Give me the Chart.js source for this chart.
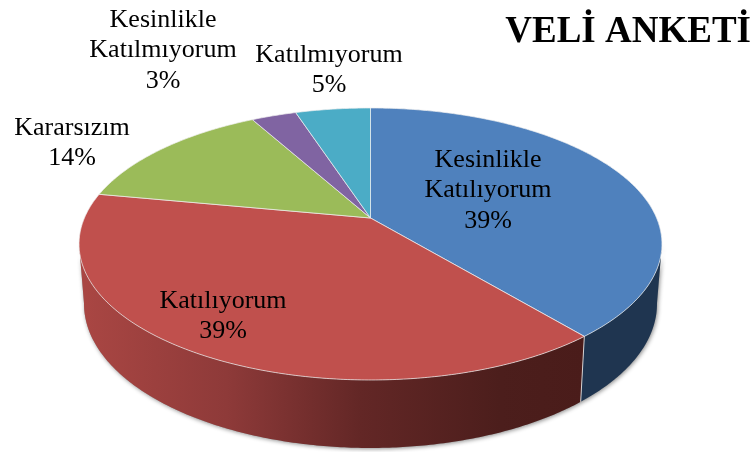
<!DOCTYPE html>
<html>
<head>
<meta charset="utf-8">
<title>Veli Anketi</title>
<script src="https://cdn.jsdelivr.net/npm/chart.js@4"></script>
<style>
  html, body { margin: 0; padding: 0; background: #fff; }
  canvas { display: block; }
</style>
</head>
<body>
<canvas id="anketChart" width="754" height="452"></canvas>
<script>
const chartTitle = 'VELİ ANKETİ';
const categories = ['Kesinlikle Katılıyorum', 'Katılıyorum', 'Kararsızım', 'Kesinlikle Katılmıyorum', 'Katılmıyorum'];
const values = [39, 39, 14, 3, 5];
const topColors = ['#4f81bd', '#c0504d', '#9bbb59', '#8064a2', '#4bacc6'];

// side wall shades, x position -> colour
const wallStops = [
    [[370, '#1f3550'], [662, '#1f3550']],
    [[85, '#a94643'], [227, '#8e3a39'], [360, '#632726'], [500, '#4c1e1c'], [585, '#4a1c1a']]
];

// label centres, first line baseline comes from y
const labelSpots = [[488, 160], [223, 301], [72, 128], [163, 20], [329, 55]];
const labelLineHeight = 30.5;

// perspective of the tilted disc: unit circle -> screen
const centerX = 370.5;
const persp = -0.191;
const topFace = { sx: 286.1, a: 89.4, b: 218 };
const bottomFace = { sx: 281.2, a: 86, b: 276.4 };

function project(face, angle) {
    const u = Math.cos(angle), v = Math.sin(angle);
    const w = 1 + persp * v;
    return [centerX + face.sx * u / w, (face.a * v + face.b) / w];
}

function traceRim(ctx, face, from, to, first) {
    const steps = Math.max(2, Math.ceil(Math.abs(to - from) / 0.01));
    for (let i = 0; i <= steps; i++) {
        const p = project(face, from + (to - from) * i / steps);
        if (first && i === 0) ctx.moveTo(p[0], p[1]);
        else ctx.lineTo(p[0], p[1]);
    }
}

const disc3d = {
    id: 'disc3d',
    // the library works out the angles, this only draws them in perspective
    beforeDatasetDraw(chart, args) {
        const ctx = chart.ctx;
        const arcs = chart.getDatasetMeta(args.index).data;
        // the wall is only seen between the two silhouette lines
        const wallFrom = 0.19, wallTo = Math.PI - 0.19;

        // soft shadow under the wall
        ctx.save();
        ctx.shadowColor = 'rgba(0,0,0,0.45)';
        ctx.shadowBlur = 4;
        ctx.shadowOffsetX = 1;
        ctx.shadowOffsetY = 1;
        ctx.fillStyle = '#999';
        ctx.beginPath();
        traceRim(ctx, bottomFace, wallFrom, wallTo, true);
        traceRim(ctx, topFace, wallTo, wallFrom, false);
        ctx.closePath();
        ctx.fill();
        ctx.restore();

        // walls
        arcs.forEach(function (arc, i) {
            const from = Math.max(arc.startAngle, wallFrom);
            const to = Math.min(arc.endAngle, wallTo);
            if (to <= from || !wallStops[i]) return;
            const stops = wallStops[i];
            const x0 = stops[0][0], x1 = stops[stops.length - 1][0];
            const grad = ctx.createLinearGradient(x0, 0, x1, 0);
            stops.forEach(function (s) { grad.addColorStop((s[0] - x0) / (x1 - x0), s[1]); });
            ctx.beginPath();
            traceRim(ctx, topFace, from, to, true);
            traceRim(ctx, bottomFace, to, from, false);
            ctx.closePath();
            ctx.fillStyle = grad;
            ctx.fill();
            // seam between wall pieces
            if (arc.startAngle > wallFrom && arc.startAngle < wallTo) {
                const a = project(topFace, arc.startAngle), b = project(bottomFace, arc.startAngle);
                ctx.beginPath();
                ctx.moveTo(a[0], a[1]);
                ctx.lineTo(b[0], b[1]);
                ctx.strokeStyle = 'rgba(235,235,235,0.85)';
                ctx.lineWidth = 1;
                ctx.stroke();
            }
        });

        // top slices
        const apex = [centerX, topFace.b];
        arcs.forEach(function (arc, i) {
            ctx.beginPath();
            ctx.moveTo(apex[0], apex[1]);
            traceRim(ctx, topFace, arc.startAngle, arc.endAngle, false);
            ctx.closePath();
            ctx.fillStyle = topColors[i];
            ctx.fill();
            ctx.strokeStyle = 'rgba(240,240,240,0.7)';
            ctx.lineWidth = 1;
            ctx.stroke();
        });
        return false;
    },
    afterDatasetsDraw(chart) {
        const ctx = chart.ctx;
        ctx.save();
        ctx.fillStyle = '#000';
        ctx.font = '26px "Liberation Serif"';
        ctx.textAlign = 'center';
        ctx.textBaseline = 'middle';
        categories.forEach(function (name, i) {
            const lines = (name === 'Katılmıyorum' || name === 'Katılıyorum' || name === 'Kararsızım')
                ? [name] : name.split(' ');
            lines.push(values[i] + '%');
            lines.forEach(function (line, k) {
                ctx.fillText(line, labelSpots[i][0], labelSpots[i][1] + k * labelLineHeight);
            });
        });
        ctx.restore();
    }
};

new Chart(document.getElementById('anketChart'), {
    type: 'pie',
    data: {
        labels: categories,
        datasets: [{ data: values, backgroundColor: topColors }]
    },
    options: {
        responsive: false,
        animation: false,
        events: [],
        layout: { padding: { right: 3 } },
        plugins: {
            legend: { display: false },
            tooltip: { enabled: false },
            title: {
                display: true,
                text: chartTitle,
                align: 'end',
                color: '#000',
                font: { family: '"Liberation Serif"', size: 37, weight: 'bold' },
                padding: { top: 10, bottom: 0 }
            }
        }
    },
    plugins: [disc3d]
});
</script>
</body>
</html>
